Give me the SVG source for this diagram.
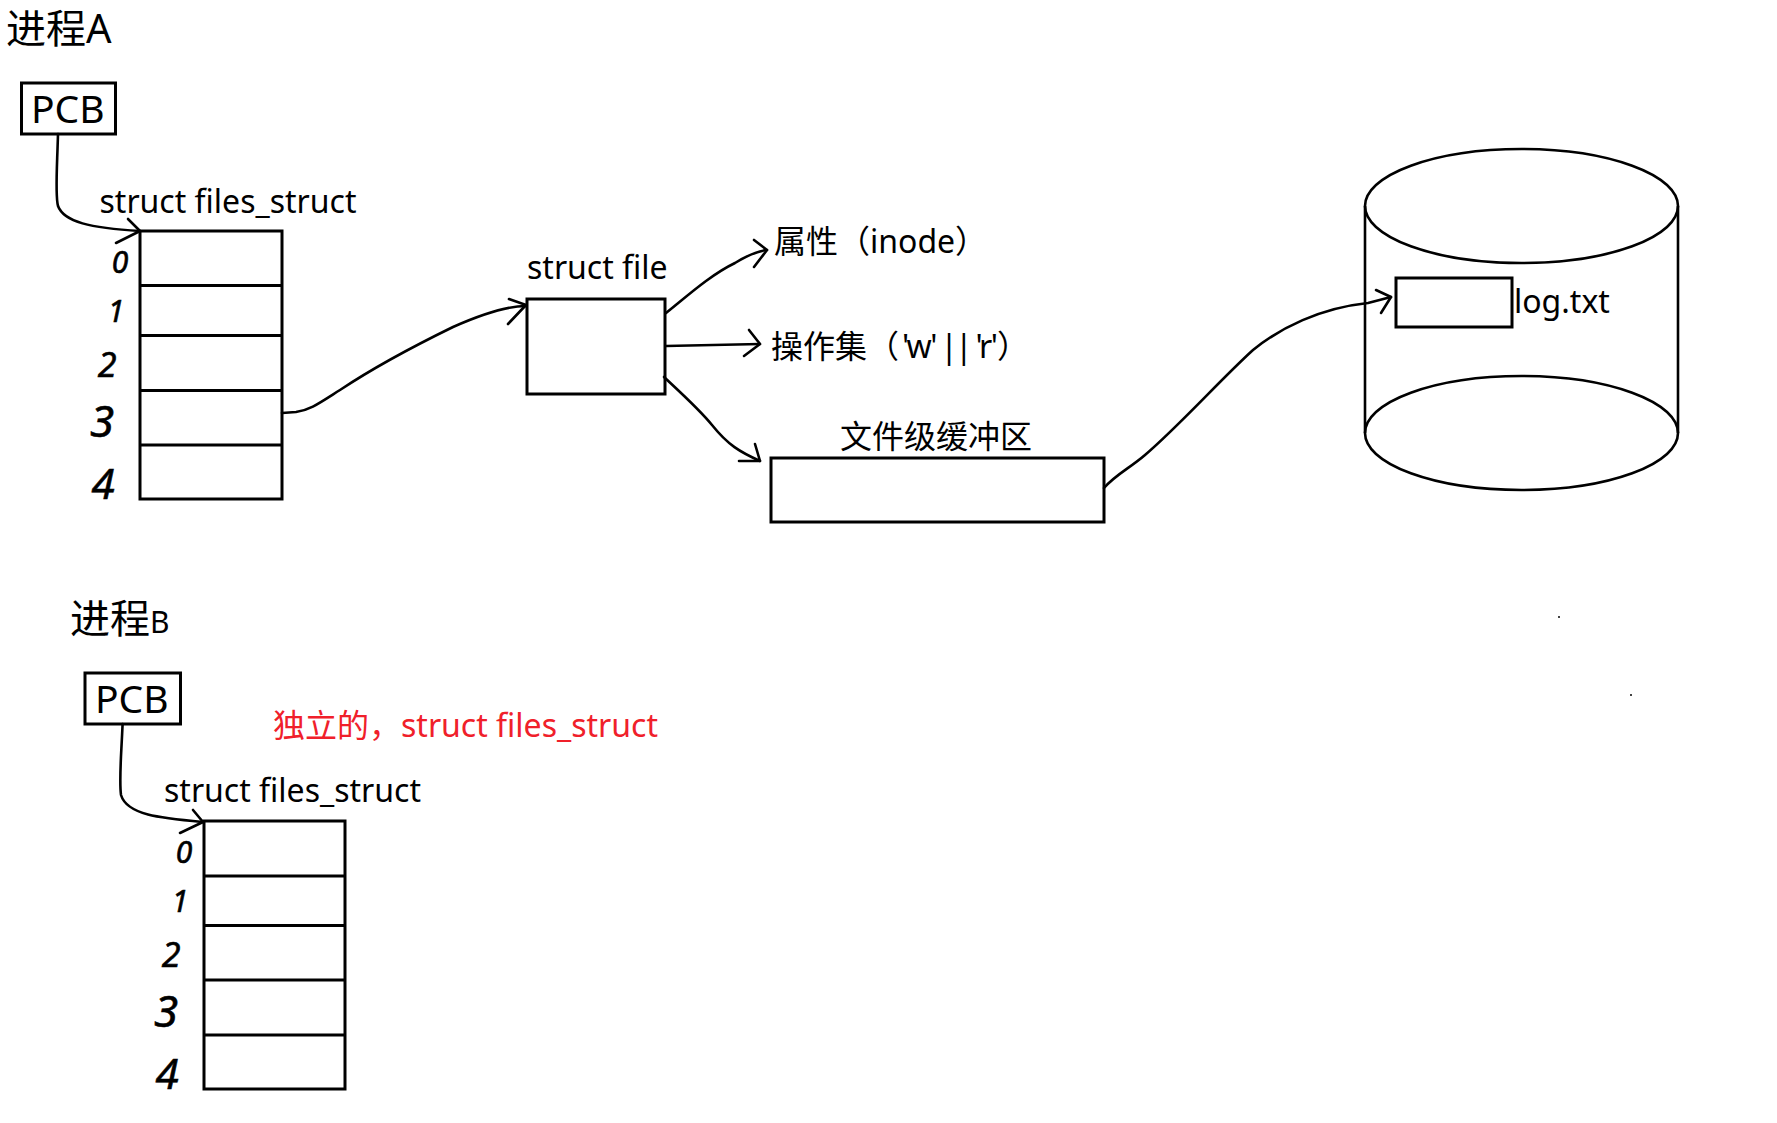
<svg xmlns="http://www.w3.org/2000/svg" width="1777" height="1123" viewBox="0 0 1777 1123">
<style>
  .box { fill: #fff; stroke: #000; stroke-width: 3; }
  .ln { fill: none; stroke: #000; stroke-width: 3; }
  .thin { fill: none; stroke: #000; stroke-width: 2.6; }
  .conn { fill: none; stroke: #000; stroke-width: 2.6; stroke-linecap: round; stroke-linejoin: round; }
  .t { font-family: "Noto Sans", "Noto Sans CJK SC", sans-serif; font-size: 32px; fill: #000; }
  .big { font-size: 39px; }
  .title { font-size: 40px; }
  .red { fill: #f0202a; }
  .dg { font-family: "Noto Sans", sans-serif; font-style: italic; fill: #000; text-anchor: middle; stroke: #000; stroke-width: 0.6; }
</style>
<rect width="1777" height="1123" fill="#fff"/>

<g id="titleA">
  <text class="t title" x="6" y="43">进程A</text>
</g>

<g id="pcbA">
  <rect class="box" x="21.5" y="83" width="94" height="51"/>
  <text class="t big" x="31" y="123">PCB</text>
</g>

<g id="filesStructA">
  <text class="t" x="99.5" y="213">struct files_struct</text>
  <rect class="box" x="140" y="231" width="142" height="268"/>
  <line class="ln" x1="140" y1="285.5" x2="282" y2="285.5"/>
  <line class="ln" x1="140" y1="335.5" x2="282" y2="335.5"/>
  <line class="ln" x1="140" y1="390.5" x2="282" y2="390.5"/>
  <line class="ln" x1="140" y1="445" x2="282" y2="445"/>
  <text class="dg" x="120" y="273" font-size="30">0</text>
  <text class="dg" x="116" y="322" font-size="30">1</text>
  <text class="dg" x="107" y="377" font-size="34">2</text>
  <text class="dg" x="102" y="437" font-size="44">3</text>
  <text class="dg" x="103" y="499" font-size="42">4</text>
</g>

<g id="structFile">
  <text class="t" x="527" y="279">struct file</text>
  <rect class="box" x="527" y="299" width="138" height="95"/>
</g>

<g id="inode">
  <text class="t" x="774" y="253">属性（inode）</text>
</g>

<g id="ops">
  <text class="t" x="771" y="358">操作集（</text>
  <text class="t" x="902" y="358" textLength="96" lengthAdjust="spacing">'w' || 'r'</text>
  <text class="t" x="997" y="358">）</text>
</g>

<g id="buffer">
  <text class="t" x="840" y="448">文件级缓冲区</text>
  <rect class="box" x="771" y="458" width="333" height="64"/>
</g>

<g id="disk">
  <ellipse class="thin" cx="1521.5" cy="206" rx="156.5" ry="57"/>
  <ellipse class="thin" cx="1521.5" cy="433" rx="156.5" ry="57"/>
  <line class="thin" x1="1365" y1="206" x2="1365" y2="433"/>
  <line class="thin" x1="1678" y1="206" x2="1678" y2="433"/>
</g>

<g id="logtxt">
  <rect class="box" x="1396" y="278" width="116" height="49"/>
  <text class="t" x="1514" y="313">log.txt</text>
</g>

<g id="titleB">
  <text class="t" x="70" y="633"><tspan font-size="40">进程</tspan><tspan font-size="30">B</tspan></text>
</g>

<g id="pcbB">
  <rect class="box" x="85" y="673" width="95.5" height="51"/>
  <text class="t big" x="95" y="713">PCB</text>
</g>

<g id="note">
  <text class="t red" x="273" y="737">独立的，struct files_struct</text>
</g>

<g id="filesStructB">
  <text class="t" x="164" y="802">struct files_struct</text>
  <rect class="box" x="204" y="821" width="141" height="268"/>
  <line class="ln" x1="204" y1="876" x2="345" y2="876"/>
  <line class="ln" x1="204" y1="925.5" x2="345" y2="925.5"/>
  <line class="ln" x1="204" y1="980" x2="345" y2="980"/>
  <line class="ln" x1="204" y1="1035" x2="345" y2="1035"/>
  <text class="dg" x="184" y="863" font-size="30">0</text>
  <text class="dg" x="180" y="912" font-size="30">1</text>
  <text class="dg" x="171" y="967" font-size="34">2</text>
  <text class="dg" x="166" y="1027" font-size="44">3</text>
  <text class="dg" x="167" y="1089" font-size="42">4</text>
</g>

<g id="connectors">
  <path class="conn" d="M58,134 C57,170 55,195 58,206 C64,222 90,228 140,231"/>
  <polyline class="conn" points="128,219 140,231 116,243"/>

  <path class="conn" d="M282,413 L296,412 C310,410 318,404 340,390 C370,370 410,348 453,327 C480,315 505,306 526,306"/>
  <polyline class="conn" points="509,299 526,305 508,324"/>

  <path class="conn" d="M666,313 C685,298 710,275 735,263 C748,255 758,251 767,250"/>
  <polyline class="conn" points="754,240 767,250 754,267"/>

  <path class="conn" d="M666,346 L760,344"/>
  <polyline class="conn" points="749,330 760,344 744,356"/>

  <path class="conn" d="M664,377 C680,392 700,410 712,425 C728,445 740,452 760,461"/>
  <polyline class="conn" points="739,461 760,461 755,444"/>

  <path class="conn" d="M1104,488 C1115,475 1130,468 1145,455 C1180,425 1220,380 1253,350 C1280,328 1320,308 1368,303 L1391,297"/>
  <polyline class="conn" points="1376,290 1391,297 1381,313"/>

  <path class="conn" d="M122.6,724 C121,760 119,780 121,795 C127,815 160,818 203,822"/>
  <polyline class="conn" points="193,810 203,822 180,833"/>
</g>

<rect x="1558" y="616" width="2" height="2" fill="#444"/>
<rect x="1630" y="694" width="2" height="2" fill="#444"/>
</svg>
